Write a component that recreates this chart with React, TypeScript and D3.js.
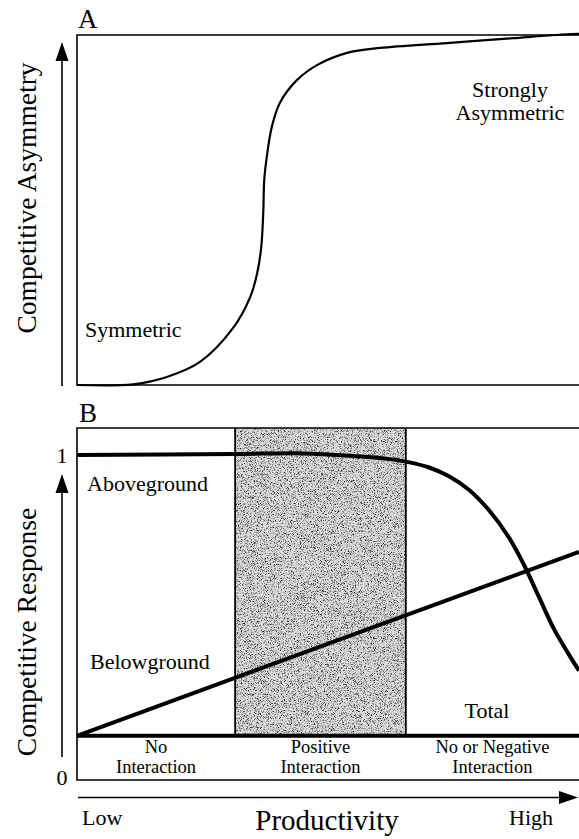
import { scaleLinear, line, curveCatmullRom } from "d3";

// Panel A: competitive asymmetry along the productivity gradient
const asymX = [0, 11.2, 17.9, 24.5, 31.1, 34.5, 35.9, 36.7, 37.1, 37.3, 37.8, 38.8, 40.4, 43.8, 47.8, 53.8, 60.4, 73.7, 86.9, 95.6, 100];
const asymY = [0, 0.2, 2.3, 6.6, 16.3, 25.1, 32, 39.4, 49.1, 58.6, 65.1, 73.7, 80.6, 87.1, 91.4, 94.9, 96.3, 97.7, 99.1, 100, 100.3];

// Panel B: competitive response
const aboveX = [0, 31.5, 45, 55, 62, 66, 70, 74, 78, 82, 86, 89, 92, 95, 98, 100];
const aboveY = [1.0, 1.003, 1.005, 0.997, 0.988, 0.978, 0.962, 0.935, 0.893, 0.83, 0.745, 0.66, 0.56, 0.46, 0.38, 0.33];
const belowX = [0, 100];
const belowY = [0.128, 0.699];
const totalX = [0, 100];
const totalY = [0.128, 0.128];

const regionBounds = [0, 31.5, 65.5, 100];
const regionLabels = [
  ["No", "Interaction"],
  ["Positive", "Interaction"],
  ["No or Negative", "Interaction"],
];
const responseTicks = [0, 1];

const W = 579;
const H = 839;
const font = "'Liberation Serif', 'Times New Roman', serif";

export default function App() {
  const x = scaleLinear().domain([0, 100]).range([77, 579]);
  const yA = scaleLinear().domain([0, 100]).range([385, 35]);
  const yB = scaleLinear().domain([0, 1]).range([777, 455]);

  const lineA = line<number>()
    .x((_, i) => x(asymX[i]))
    .y((d) => yA(d))
    .curve(curveCatmullRom.alpha(0.5));

  const mkB = (xs: number[]) =>
    line<number>()
      .x((_, i) => x(xs[i]))
      .y((d) => yB(d))
      .curve(curveCatmullRom.alpha(0.5));

  const boxBTop = 428;
  const boxBBottom = 780;
  const baseY = yB(totalY[0]);

  return (
    <svg
      width={W}
      height={H}
      style={{ position: "absolute", left: 0, top: 0, background: "#fff" }}
      fontFamily={font}
    >
      <defs>
        <filter id="grain" x="0" y="0" width="100%" height="100%">
          <feTurbulence type="fractalNoise" baseFrequency="1.3" numOctaves={2} seed={7} />
          <feColorMatrix
            type="matrix"
            values="0 0 0 0 0  0 0 0 0 0  0 0 0 0 0  3 0 0 0 -1.5"
          />
        </filter>
      </defs>

      {/* Panel A */}
      <text x={78} y={28} fontSize={27}>A</text>
      <path d={`M${x(100)},${yA(100)} H${x(0)} V${yA(0)} H${x(100)}`} fill="none" stroke="#000" strokeWidth={1.6} />
      <path d={lineA(asymY) ?? ""} fill="none" stroke="#000" strokeWidth={2.2} />
      <text x={85} y={337} fontSize={22}>Symmetric</text>
      <text x={510} y={97} fontSize={22} textAnchor="middle">Strongly</text>
      <text x={510} y={120} fontSize={22} textAnchor="middle">Asymmetric</text>
      <line x1={62} x2={62} y1={386} y2={44} stroke="#000" strokeWidth={1.6} />
      <path d="M62,42 L55.5,61 L68.5,61 z" fill="#000" />
      <text transform="translate(36,198) rotate(-90)" fontSize={27.5} textAnchor="middle">
        Competitive Asymmetry
      </text>

      {/* Panel B */}
      <text x={79} y={422} fontSize={27}>B</text>
      <rect x={x(regionBounds[1])} y={boxBTop} width={x(regionBounds[2]) - x(regionBounds[1])} height={baseY - boxBTop} fill="#dadada" />
      <rect x={x(regionBounds[1])} y={boxBTop} width={x(regionBounds[2]) - x(regionBounds[1])} height={baseY - boxBTop} filter="url(#grain)" />
      <path d={`M${x(100)},${boxBTop} H${x(0)} V${boxBBottom} H${x(100)}`} fill="none" stroke="#000" strokeWidth={1.6} />
      {regionBounds.slice(1, 3).map((b) => (
        <line key={b} x1={x(b)} x2={x(b)} y1={boxBTop} y2={baseY} stroke="#000" strokeWidth={1.8} />
      ))}
      <path d={mkB(totalX)(totalY) ?? ""} fill="none" stroke="#000" strokeWidth={4} />
      <path d={mkB(belowX)(belowY) ?? ""} fill="none" stroke="#000" strokeWidth={4} />
      <path d={mkB(aboveX)(aboveY) ?? ""} fill="none" stroke="#000" strokeWidth={4} />

      <text x={87} y={491} fontSize={22}>Aboveground</text>
      <text x={90} y={669} fontSize={22}>Belowground</text>
      <text x={487} y={718} fontSize={22} textAnchor="middle">Total</text>

      {regionLabels.map((lbl, i) => {
        const cx = (x(regionBounds[i]) + x(regionBounds[i + 1])) / 2;
        return (
          <g key={i}>
            <text x={cx} y={753} fontSize={18.5} textAnchor="middle">{lbl[0]}</text>
            <text x={cx} y={773} fontSize={18.5} textAnchor="middle">{lbl[1]}</text>
          </g>
        );
      })}

      {responseTicks.map((t) => (
        <text key={t} x={62} y={yB(t)} dy="0.35em" fontSize={22} textAnchor="middle">
          {t}
        </text>
      ))}
      <line x1={62} x2={62} y1={757} y2={476} stroke="#000" strokeWidth={1.6} />
      <path d="M62,474 L55.5,493 L68.5,493 z" fill="#000" />
      <text transform="translate(36,632) rotate(-90)" fontSize={27.5} textAnchor="middle">
        Competitive Response
      </text>

      {/* X axis */}
      <line x1={78} x2={562} y1={797.5} y2={797.5} stroke="#000" strokeWidth={1.6} />
      <path d="M578,797.5 L559,791 L559,804 z" fill="#000" />
      <text x={82} y={825} fontSize={22}>Low</text>
      <text x={553} y={825} fontSize={22} textAnchor="end">High</text>
      <text x={327} y={830} fontSize={29} textAnchor="middle">Productivity</text>
    </svg>
  );
}
